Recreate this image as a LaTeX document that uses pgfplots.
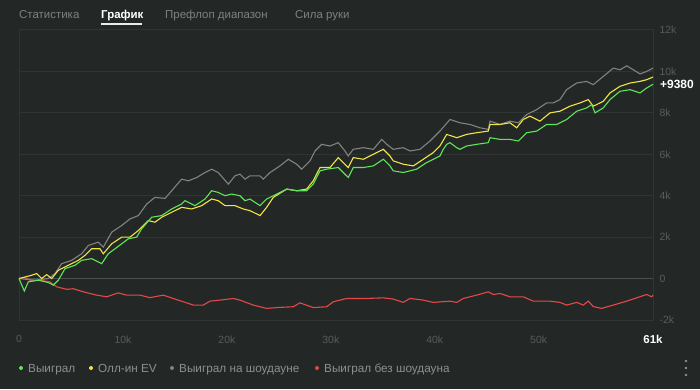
\documentclass[border=0pt]{standalone}
\usepackage{pgfplots}
\pgfplotsset{compat=1.18}
\usepackage{fontspec}
\setmainfont{Liberation Sans}
\definecolor{bg}{RGB}{35,40,38}
\definecolor{gridc}{RGB}{48,53,51}
\definecolor{zeroc}{RGB}{74,79,77}
\definecolor{tickc}{RGB}{88,93,91}
\definecolor{tabc}{RGB}{125,130,128}
\definecolor{legc}{RGB}{140,145,143}
\definecolor{cgreen}{RGB}{96,228,88}
\definecolor{cyellow}{RGB}{240,228,72}
\definecolor{cgray}{RGB}{130,130,130}
\definecolor{cred}{RGB}{228,72,72}
\begin{document}
\begin{tikzpicture}[x=1bp,y=1bp]
\fill[bg] (0,0) rectangle (700,389);
% tabs
\node[anchor=base west, text=tabc, font=\fontsize{11.5}{13}\selectfont, inner sep=0] at (19,371) {Статистика};
\node[anchor=base west, text=white, font=\fontsize{11.5}{13}\selectfont\bfseries, inner sep=0] at (101,371) {График};
\node[anchor=base west, text=tabc, font=\fontsize{11.5}{13}\selectfont, inner sep=0] at (165,371) {Префлоп диапазон};
\node[anchor=base west, text=tabc, font=\fontsize{11.5}{13}\selectfont, inner sep=0] at (295,371) {Сила руки};
\fill[white!85!gray] (101,364) rectangle (142,366);
\begin{axis}[at={(19bp,69bp)}, anchor=south west, scale only axis,
  width=634bp, height=290bp,
  xmin=0, xmax=61, ymin=-2000, ymax=12000,
  axis line style={gridc, line width=1bp},
  scaled y ticks=false, scaled x ticks=false,
  ytick={-2000,0,2000,4000,6000,8000,10000,12000},
  yticklabels={-2k,0,2k,4k,6k,8k,10k,12k},
  ymajorgrids, grid style={gridc, line width=1bp},
  yticklabel pos=right,
  yticklabel style={anchor=west, xshift=3bp},
  major tick length=0,
  xtick={0,10,20,30,40,50,61},
  xticklabels={0,10k,20k,30k,40k,50k,{\textbf{\color{white}\fontsize{11.5}{13}\selectfont 61k}}},
  xticklabel style={yshift=-12bp},
  ticklabel style={text=tickc, font=\fontsize{10.5}{12}\selectfont},
  clip=false,
]
\addplot[zeroc, line width=1.5bp] coordinates {(0,0) (61,0)};
% red: won without showdown
\addplot[cred, line width=1.1bp] coordinates {
(0,0) (0.51,60) (1.06,-80) (2.02,-80) (2.98,-160) (3.63,-400) (4.59,-520) (5.22,-490)
(6.19,-640) (7.48,-800) (8.44,-880) (9.55,-690) (10.36,-800) (11.64,-800) (12.60,-920)
(13.88,-800) (14.85,-960) (15.81,-1120) (16.77,-1280) (17.73,-1280) (18.38,-1090)
(19.34,-1040) (20.62,-960) (21.26,-1040) (22.54,-1280) (23.83,-1440) (25.11,-1390)
(26.39,-1360) (27.03,-1170) (28.31,-1400) (29.60,-1360) (30.24,-1120) (31.53,-960)
(31.85,-960) (33.45,-960) (35.05,-930) (36.01,-990) (36.97,-1150) (37.62,-960)
(38.90,-1040) (39.86,-1150) (41.47,-1090) (42.11,-1150) (42.75,-960) (44.03,-800)
(45.15,-640) (45.63,-770) (46.28,-720) (47.24,-880) (48.52,-880) (49.48,-1090)
(51.09,-1090) (52.05,-1150) (52.69,-1280) (53.66,-1150) (54.29,-1280) (54.77,-1090)
(55.25,-1350) (56.06,-1440) (57.18,-1280) (58.47,-1090) (59.43,-930) (60.39,-770)
(60.87,-880) (61.0,-800)};
% gray: won at showdown
\addplot[cgray, line width=1.1bp] coordinates {
(0,0) (1.54,-80) (2.82,0) (3.46,240) (4.11,720) (5.07,880) (6.03,1200) (6.67,1600)
(7.63,1760) (8.11,1520) (8.92,2240) (9.88,2560) (10.68,2880) (11.48,3040) (12.29,3600)
(13.08,3920) (14.05,3870) (14.69,4240) (15.65,4800) (16.29,4720) (17.10,4880)
(17.90,5120) (18.54,5280) (19.17,5120) (20.14,4560) (20.78,4960) (21.26,5040)
(21.74,4800) (22.22,4960) (23.19,4960) (23.50,4800) (24.15,5120) (25.11,5440)
(25.91,5760) (26.72,5520) (27.20,5280) (28.00,5680) (28.48,6160) (29.12,6480)
(29.92,6400) (30.72,6560) (31.36,6160) (31.68,5920) (32.16,6240) (33.13,6320)
(34.09,6240) (34.90,6720) (35.38,6480) (36.01,6240) (36.97,6320) (37.62,6160)
(38.58,6240) (39.54,6640) (40.50,7120) (41.47,7680) (42.43,7520) (43.39,7440)
(44.35,7280) (45.15,7200) (45.32,7600) (46.28,7440) (47.24,7600) (48.04,7520)
(48.85,7920) (49.81,8160) (50.77,8480) (51.41,8480) (52.05,8640) (52.69,9120)
(53.66,9440) (54.62,9520) (55.25,9360) (56.22,9760) (57.18,10160) (57.82,10080)
(58.47,10270) (59.11,10080) (59.75,9880) (60.39,10000) (61.0,10160)};
% yellow: all-in EV
\addplot[cyellow, line width=1.1bp] coordinates {
(0,0) (1.22,160) (1.70,240) (2.18,0) (2.67,190) (3.15,0) (3.78,400) (4.74,640)
(5.71,880) (6.35,1120) (6.99,1440) (7.79,1440) (8.11,1200) (8.92,1680) (9.88,2000)
(10.68,2000) (11.48,2320) (12.44,2800) (13.08,2720) (13.73,2960) (14.69,3200)
(15.65,3440) (16.62,3360) (17.58,3520) (18.54,3840) (19.17,3760) (19.82,3520)
(20.78,3520) (21.58,3360) (22.22,3280) (23.19,3040) (23.83,3440) (24.47,3920)
(25.76,4320) (26.72,4240) (27.68,4320) (28.31,4720) (28.96,5360) (29.92,5360)
(30.72,5840) (31.36,5520) (31.68,5360) (32.16,5840) (33.13,5760) (34.09,6000)
(35.05,6240) (35.69,5920) (36.01,5680) (36.97,5520) (37.94,5440) (38.90,5760)
(39.86,6080) (40.50,6400) (41.15,6960) (42.11,6800) (43.07,6960) (44.03,7040)
(45.15,7120) (45.32,7440) (46.28,7440) (47.24,7520) (47.88,7280) (48.52,7680)
(49.16,7840) (50.12,7600) (51.09,8000) (52.05,8080) (53.01,8320) (53.98,8480)
(54.77,8640) (55.25,8320) (56.22,8560) (56.86,8960) (57.82,9280) (58.79,9440)
(59.75,9520) (60.39,9600) (61.0,9730)};
% green: won
\addplot[cgreen, line width=1.1bp] coordinates {
(0,0) (0.51,-600) (0.89,-160) (1.86,-80) (2.82,-190) (3.30,-320) (3.78,-80) (4.43,480)
(5.39,640) (6.03,880) (6.99,960) (7.96,720) (8.59,1200) (9.24,1440) (9.88,1680)
(10.52,1920) (11.32,2000) (11.80,2400) (12.77,2960) (13.73,3040) (14.69,3360)
(15.65,3600) (15.97,3760) (16.93,3520) (17.90,3840) (18.54,4240) (19.17,4160)
(19.82,4000) (20.46,4080) (21.26,4000) (21.74,3760) (22.22,3840) (23.19,3520)
(23.83,3840) (24.47,4000) (25.76,4320) (26.72,4240) (27.68,4240) (28.31,4560)
(28.96,5200) (29.60,5280) (30.72,5360) (31.36,5040) (31.68,4880) (32.16,5360)
(33.13,5360) (34.09,5440) (35.05,5760) (35.69,5440) (36.01,5200) (36.97,5120)
(38.26,5280) (39.22,5600) (40.19,5840) (40.50,5920) (40.82,6240) (41.15,6480)
(41.47,6560) (42.11,6320) (42.43,6240) (43.07,6400) (44.03,6480) (45.15,6560)
(45.32,6800) (46.28,6720) (47.24,6720) (48.04,6640) (48.85,7040) (49.81,7120)
(50.77,7440) (51.73,7440) (52.69,7680) (53.66,8080) (54.62,8240) (55.10,8400)
(55.42,8000) (56.22,8240) (56.86,8640) (57.82,9040) (58.79,9120) (59.75,8960)
(60.39,9200) (61.0,9380)};
\node[anchor=west, text=white, font=\fontsize{12}{14}\selectfont\bfseries, inner sep=0, xshift=7bp] at (axis cs:61,9380) {+9380};
\end{axis}
% legend
\fill[cgreen] (21,21) circle (2bp);
\node[anchor=base west, text=legc, font=\fontsize{11.8}{13}\selectfont, inner sep=0] at (28,17) {Выиграл};
\fill[cyellow] (91,21) circle (2bp);
\node[anchor=base west, text=legc, font=\fontsize{11.8}{13}\selectfont, inner sep=0] at (98,17) {Олл-ин EV};
\fill[cgray] (172,21) circle (2bp);
\node[anchor=base west, text=legc, font=\fontsize{11.8}{13}\selectfont, inner sep=0] at (179,17) {Выиграл на шоудауне};
\fill[cred] (317,21) circle (2bp);
\node[anchor=base west, text=legc, font=\fontsize{11.8}{13}\selectfont, inner sep=0] at (324,17) {Выиграл без шоудауна};
\foreach \yy in {14,21,28} \fill[legc] (686,\yy) circle (1.3bp);
\end{tikzpicture}
\end{document}
